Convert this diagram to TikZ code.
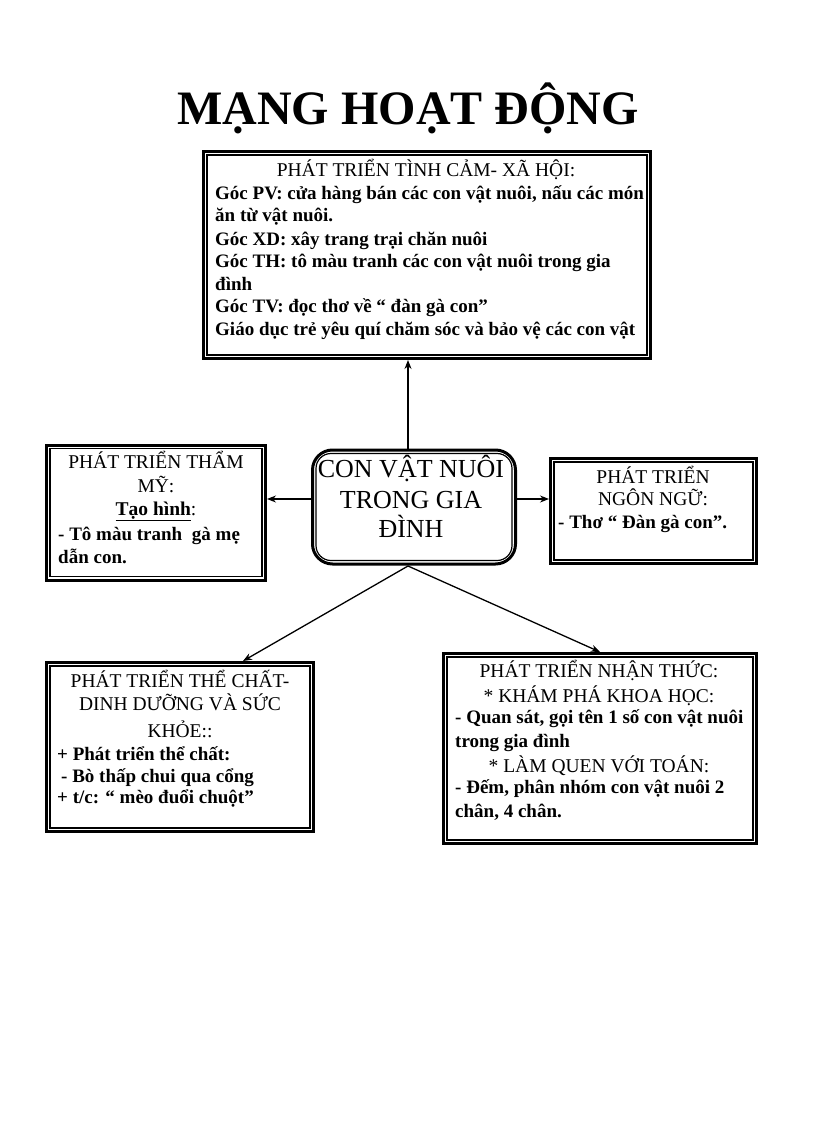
\documentclass[tikz,border=0pt]{standalone}
\usepackage{fontspec}
\setmainfont{Liberation Serif}
\usetikzlibrary{arrows.meta}
\begin{document}
\begin{tikzpicture}[x=1pt,y=-1pt,
  box/.style={draw, line width=3pt, rectangle, inner sep=0pt},
  inbox/.style={line width=1.3pt},
  hd/.style={anchor=base, inner sep=0pt, font=\fontsize{19.5}{22}\selectfont},
  bd/.style={anchor=base west, inner sep=0pt, font=\fontsize{19}{22}\selectfont\bfseries},
  ctext/.style={anchor=base, inner sep=0pt, font=\fontsize{26}{28}\selectfont},
  arr/.style={-{Stealth[length=9pt,width=7pt]}, line width=1.3pt}]
\useasboundingbox[fill=white] (0,0) rectangle (816,1123);

% title
\node[anchor=base, inner sep=0pt, font=\fontsize{48}{50}\selectfont\bfseries] (title) at (408,125) {MẠNG HOẠT ĐỘNG};

% boxes
\node[box, minimum width=447pt, minimum height=207pt] (top) at (427,255) {};
\draw[inbox] ([shift={(5pt,-5pt)}]top.north west) rectangle ([shift={(-5pt,5pt)}]top.south east);
\node[box, minimum width=219pt, minimum height=135pt] (L) at (156,512.5) {};
\draw[inbox] ([shift={(5pt,-5pt)}]L.north west) rectangle ([shift={(-5pt,5pt)}]L.south east);
\node[box, minimum width=206pt, minimum height=105pt] (R) at (653.5,511) {};
\draw[inbox] ([shift={(5pt,-5pt)}]R.north west) rectangle ([shift={(-5pt,5pt)}]R.south east);
\node[box, minimum width=267pt, minimum height=169pt] (BL) at (180,747) {};
\draw[inbox] ([shift={(5pt,-5pt)}]BL.north west) rectangle ([shift={(-5pt,5pt)}]BL.south east);
\node[box, minimum width=313pt, minimum height=190pt] (BR) at (600,748.5) {};
\draw[inbox] ([shift={(5pt,-5pt)}]BR.north west) rectangle ([shift={(-5pt,5pt)}]BR.south east);

% centre
\node[draw, line width=3pt, rounded corners=20pt, minimum width=203pt, minimum height=114pt] (c) at (414,507) {};
\draw[line width=1.2pt, rounded corners=15pt] ([shift={(5pt,-5pt)}]c.north west) rectangle ([shift={(-5pt,5pt)}]c.south east);
\node[ctext] (c1) at (411,477) {CON VẬT NUÔI};
\node[ctext] (c2) at (411,508) {TRONG GIA};
\node[ctext] (c3) at (411,537) {ĐÌNH};

% connectors
\coordinate (cn) at (408,449);
\coordinate (cs) at (408,566);
\coordinate (cw) at (311,499);
\coordinate (ce) at (517,499);
\draw[arr] (cn) -- (cn |- top.south);
\draw[arr] (cw) -- (cw -| L.east);
\draw[arr] (ce) -- (ce -| R.west);
\draw[arr] (cs) -- ([xshift=63pt]BL.north);
\draw[arr] (cs) -- (BR.north);

% top box text
\node[hd] (t0) at (426,177) {PHÁT TRIỂN TÌNH CẢM- XÃ HỘI:};
\node[bd] (t1) at (215,200) {Góc PV: cửa hàng bán các con vật nuôi, nấu các món};
\node[bd] (t2) at (215,222) {ăn từ vật nuôi.};
\node[bd] (t3) at (215,245) {Góc XD: xây trang trại chăn nuôi};
\node[bd] (t4) at (215,267) {Góc TH: tô màu tranh các con vật nuôi trong gia};
\node[bd] (t5) at (215,290) {đình};
\node[bd] (t6) at (215,312) {Góc TV: đọc thơ về “ đàn gà con”};
\node[bd] (t7) at (215,335) {Giáo dục trẻ yêu quí chăm sóc và bảo vệ các con vật};

% left box text
\node[hd] (l0) at (156,468) {PHÁT TRIỂN THẨM};
\node[hd] (l1) at (156,492) {MỸ:};
\node[hd] (l2) at (156,515) {\underline{\textbf{Tạo hình}}:};
\node[bd] (l3) at (58,540) {- Tô màu tranh\hspace{5pt} gà mẹ};
\node[bd] (l4) at (58,563) {dẫn con.};

% right box text
\node[hd] (r0) at (653,483) {PHÁT TRIỂN};
\node[hd] (r1) at (653,505) {NGÔN NGỮ:};
\node[bd] (r2) at (558,528) {- Thơ “ Đàn gà con”.};

% bottom-left text
\node[hd] (b0) at (180,687) {PHÁT TRIỂN THỂ CHẤT-};
\node[hd] (b1) at (180,710) {DINH DƯỠNG VÀ SỨC};
\node[hd] (b2) at (180,737) {KHỎE::};
\node[bd] (b3) at (57,760) {+ Phát triển thể chất:};
\node[bd] (b4) at (61,782) {- Bò thấp chui qua cổng};
\node[bd] (b5) at (57,803) {+ t/c: “ mèo đuổi chuột”};

% bottom-right text
\node[hd] (n0) at (599,677) {PHÁT TRIỂN NHẬN THỨC:};
\node[hd] (n1) at (599,702) {* KHÁM PHÁ KHOA HỌC:};
\node[bd] (n2) at (455,723) {- Quan sát, gọi tên 1 số con vật nuôi};
\node[bd] (n3) at (455,747) {trong gia đình};
\node[hd] (n4) at (599,772) {* LÀM QUEN VỚI TOÁN:};
\node[bd] (n5) at (455,793) {- Đếm, phân nhóm con vật nuôi 2};
\node[bd] (n6) at (455,817) {chân, 4 chân.};
\end{tikzpicture}
\end{document}
